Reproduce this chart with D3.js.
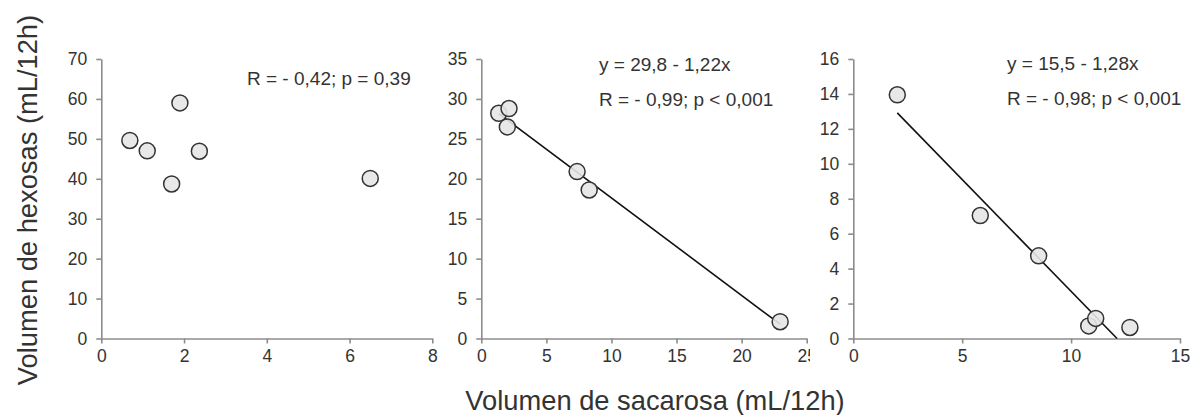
<!DOCTYPE html>
<html>
<head>
<meta charset="utf-8">
<script src="https://cdn.jsdelivr.net/npm/d3@7"></script>
<style>
  body { margin: 0; background: #fff; }
  svg { display: block; }
  text { font-family: "Liberation Sans", Arial, sans-serif; fill: #333; }
</style>
</head>
<body>
<div id="chart"></div>
<script>
// panel 1
const p1X = [0.69, 1.11, 1.90, 1.70, 2.37, 6.50];
const p1Y = [49.6, 47.0, 59.0, 38.7, 46.9, 40.1];
const p1XTicks = [0, 2, 4, 6, 8];
const p1YTicks = [0, 10, 20, 30, 40, 50, 60, 70];

// panel 2
const p2X = [1.34, 2.13, 2.00, 7.36, 8.29, 22.96];
const p2Y = [28.2, 28.8, 26.5, 20.9, 18.6, 2.1];
const p2XTicks = [0, 5, 10, 15, 20, 25];
const p2YTicks = [0, 5, 10, 15, 20, 25, 30, 35];
const p2Fit = { a: 29.8, b: -1.22 };

// panel 3
const p3X = [2.02, 5.83, 8.51, 10.81, 11.13, 12.70];
const p3Y = [13.95, 7.04, 4.73, 0.72, 1.15, 0.63];
const p3XTicks = [0, 5, 10, 15];
const p3YTicks = [0, 2, 4, 6, 8, 10, 12, 14, 16];
const p3Fit = { a: 15.5, b: -1.28 };

const labels1 = ["R = - 0,42; p = 0,39"];
const labels2 = ["y = 29,8 - 1,22x", "R = - 0,99; p < 0,001"];
const labels3 = ["y = 15,5 - 1,28x", "R = - 0,98; p < 0,001"];

const width = 1192, height = 415;
const plotTop = 59, plotBottom = 338.5;
const axisColor = "#8c8c8c";

const svg = d3.select('#chart')
  .append('svg')
  .attr('width', width)
  .attr('height', height);

function drawPanel(opt) {
  const g = svg.append('g');

  // white background (hides the overflow of the previous panel, like the original)
  if (opt.bg) {
    g.append('rect')
      .attr('x', opt.bg[0]).attr('y', 0)
      .attr('width', opt.bg[1] - opt.bg[0]).attr('height', 378)
      .attr('fill', '#fff');
  }

  const x = d3.scaleLinear().domain(opt.xDomain).range(opt.xRange);
  const y = d3.scaleLinear().domain(opt.yDomain).range([plotBottom, plotTop]);

  const xAxis = g.append('g')
    .attr('transform', 'translate(0,' + plotBottom + ')')
    .call(d3.axisBottom(x).tickValues(opt.xTicks).tickSize(5).tickSizeOuter(0).tickPadding(6));
  const yAxis = g.append('g')
    .attr('transform', 'translate(' + opt.xRange[0] + ',0)')
    .call(d3.axisLeft(y).tickValues(opt.yTicks).tickSize(5).tickSizeOuter(0).tickPadding(9));

  [xAxis, yAxis].forEach(a => {
    a.select('.domain').attr('stroke', axisColor).attr('stroke-width', 1.6);
    a.selectAll('.tick line').attr('stroke', axisColor).attr('stroke-width', 1.6);
    a.selectAll('.tick text')
      .style('font-family', '"Liberation Sans", Arial, sans-serif')
      .style('font-size', '17.5px')
      .attr('fill', '#2e2e2e');
  });
  xAxis.selectAll('.tick text').attr('dy', '0.72em');

  // regression line
  if (opt.fit) {
    const x0 = d3.min(opt.xs);
    let x1 = d3.max(opt.xs);
    const xZero = -opt.fit.a / opt.fit.b;
    if (xZero < x1) x1 = xZero;
    g.append('line')
      .attr('x1', x(x0)).attr('y1', y(opt.fit.a + opt.fit.b * x0))
      .attr('x2', x(x1)).attr('y2', y(opt.fit.a + opt.fit.b * x1))
      .attr('stroke', '#111')
      .attr('stroke-width', 1.6);
  }

  // points
  g.selectAll('circle.pt')
    .data(opt.xs.map((d, i) => [d, opt.ys[i]]))
    .join('circle')
    .attr('class', 'pt')
    .attr('cx', d => x(d[0]))
    .attr('cy', d => y(d[1]))
    .attr('r', 8)
    .attr('fill', '#e6e6e6')
    .attr('fill-opacity', 0.9)
    .attr('stroke', '#333')
    .attr('stroke-width', 1.5);

  // annotations
  opt.labels.forEach((t, i) => {
    g.append('text')
      .attr('x', opt.labelPos[0])
      .attr('y', opt.labelPos[1] + i * 35)
      .style('font-size', '19px')
      .text(t);
  });
}

drawPanel({
  xDomain: [0, 8], xRange: [101.3, 432.3], yDomain: [0, 70],
  xTicks: p1XTicks, yTicks: p1YTicks, xs: p1X, ys: p1Y,
  labels: labels1, labelPos: [247, 85]
});

drawPanel({
  xDomain: [0, 25], xRange: [481.3, 806.7], yDomain: [0, 35],
  xTicks: p2XTicks, yTicks: p2YTicks, xs: p2X, ys: p2Y, fit: p2Fit,
  labels: labels2, labelPos: [599, 70.5]
});

drawPanel({
  bg: [810, 1192],
  xDomain: [0, 15], xRange: [853.3, 1180], yDomain: [0, 16],
  xTicks: p3XTicks, yTicks: p3YTicks, xs: p3X, ys: p3Y, fit: p3Fit,
  labels: labels3, labelPos: [1007, 69.5]
});

// axis titles
svg.append('text')
  .attr('transform', 'translate(37,200) rotate(-90)')
  .attr('text-anchor', 'middle')
  .style('font-size', '27.3px')
  .text('Volumen de hexosas (mL/12h)');

svg.append('text')
  .attr('x', 655)
  .attr('y', 410)
  .attr('text-anchor', 'middle')
  .style('font-size', '27.3px')
  .text('Volumen de sacarosa (mL/12h)');
</script>
</body>
</html>
